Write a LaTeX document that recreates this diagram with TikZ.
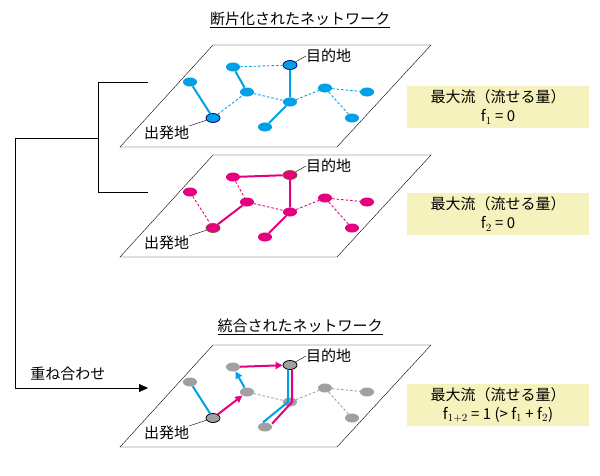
\documentclass[tikz,border=0pt]{standalone}
\usepackage{fontspec}
\setmainfont{Noto Sans CJK JP}
\usetikzlibrary{arrows.meta, positioning, shapes.geometric}
\definecolor{netblue}{RGB}{0,160,230}
\definecolor{netred}{RGB}{228,0,127}
\definecolor{netgray}{RGB}{160,160,160}
\definecolor{boxyellow}{RGB}{245,242,190}

% node positions of the network
\newcommand{\netnodes}{%
  \node[pt] (n1) at (233,67) {};
  \node[pt] (n2) at (190,82) {};
  \node[pt] (n3) at (247,92) {};
  \node[pt] (n5) at (290,102) {};
  \node[pt] (n7) at (265,127) {};
  \node[pt] (n8) at (325,88) {};
  \node[pt] (n9) at (367,92) {};
  \node[pt] (n10) at (352,118) {};
  \node[pt, end pt] (dst) at (290,65) {};
  \node[pt, end pt] (src) at (213,118) {};
  \draw (213,45) -- (431,45) -- (337,147) -- (120,147) -- cycle;
  \node[lbl, anchor=west] (dstlbl) at (306,56) {目的地};
  \node[lbl, anchor=west] (srclbl) at (144,133) {出発地};
  \draw (dst) -- (dstlbl.west);
  \draw (src) -- (srclbl.north east);
}

\begin{document}
\begin{tikzpicture}[x=1pt, y=-1pt, font=\fontsize{15}{19}\selectfont,
    pt/.style={ellipse, minimum width=14pt, minimum height=9pt, inner sep=0pt, fill=#1},
    pt/.default=netblue,
    end pt/.style={draw=#1, line width=0.8pt},
    end pt/.default=black,
    lbl/.style={inner sep=0pt},
    solid edge/.style={line width=2pt},
    dash edge/.style={dashed, line width=0.9pt, dash pattern=on 2.5pt off 2pt},
    result box/.style={fill=boxyellow, minimum width=182pt, align=center, inner sep=4pt},
    flow/.style={line width=2pt, -{Triangle[length=7pt, width=7pt]}}]
  \useasboundingbox (0,0) rectangle (600,475);

  % titles
  \node (title1) at (300,20) {\underline{断片化されたネットワーク}};
  \node (title2) at (300,327) {\underline{統合されたネットワーク}};

  % fragmented network 1
  \begin{scope}[name prefix=a-, pt/.default=netblue, end pt/.default=blue!50!black]
    \netnodes
    \begin{scope}[netblue]
      \draw[solid edge] (n2) -- (src) (n1) -- (n3) (dst) -- (n5) -- (n7);
      \draw[dash edge] (n1) -- (dst) (src) -- (n3) -- (n5) -- (n8) -- (n9) (n8) -- (n10);
    \end{scope}
  \end{scope}
  \node[result box] (res1) at (498,107) {最大流（流せる量）\\f$_1$ = 0};

  % fragmented network 2
  \begin{scope}[yshift=-110pt, name prefix=b-, pt/.default=netred, end pt/.default=brown!70!black]
    \netnodes
    \begin{scope}[netred]
      \draw[solid edge] (n1) -- (dst) -- (n5) -- (n7) (src) -- (n3);
      \draw[dash edge] (n2) -- (src) (n1) -- (n3) -- (n5) -- (n8) -- (n9) (n8) -- (n10);
    \end{scope}
  \end{scope}
  \node[result box] (res2) at (498,214) {最大流（流せる量）\\f$_2$ = 0};

  % merged network
  \begin{scope}[yshift=-300pt, name prefix=c-, pt/.default=netgray, end pt/.default=black]
    \netnodes
    \draw[netgray, dash edge] (n3) -- (n5) -- (n8) -- (n9) (n8) -- (n10);
    \draw[netblue, solid edge] (n2) -- (src);
    \draw[netblue, flow] (n3) -- (n1);
    \draw[netred, flow] (src) -- (n3);
    \draw[netred, flow] (n1) -- (dst);
    \draw[netblue, solid edge] ([xshift=-2pt]dst.south) -- ([xshift=-2pt]n5.center) -- ([xshift=-2pt]n7.north);
    \draw[netred, solid edge] ([xshift=2pt]dst.south) -- ([xshift=2pt]n5.center) -- ([xshift=2pt]n7.north east);
  \end{scope}
  \node[result box] (res3) at (498,405) {最大流（流せる量）\\f$_{1+2}$ = 1 (> f$_1$ + f$_2$)};

  % bracket and merge arrow
  \coordinate (br1) at (148,82);
  \coordinate (br2) at (148,192);
  \coordinate (mg) at (148,388);
  \draw (br1) -- (98,82) -- (98,192) -- (br2);
  \draw[-{Triangle[length=9pt, width=8pt]}] (98,138) -- (15,138) -- (15,388) -- (mg);
  \node (merge) at (68,374) {重ね合わせ};
\end{tikzpicture}
\end{document}
